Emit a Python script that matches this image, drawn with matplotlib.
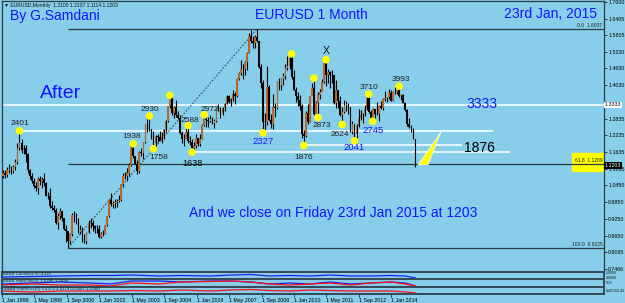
import matplotlib
matplotlib.use("Agg")
import matplotlib.pyplot as plt
from matplotlib.patches import Polygon, Rectangle
import numpy as np

# EURUSD monthly, Jan 1998 .. Jan 2015
first_open = 1.085
closes = [
    1.080, 1.090, 1.082, 1.100, 1.105, 1.098, 1.112, 1.130, 1.180, 1.195, 1.172, 1.178,
    1.158, 1.099, 1.078, 1.059, 1.043, 1.034, 1.069, 1.060, 1.069, 1.053, 1.008, 1.007,
    0.970, 0.965, 0.958, 0.912, 0.935, 0.952, 0.927, 0.888, 0.882, 0.848, 0.870, 0.939,
    0.940, 0.920, 0.880, 0.887, 0.846, 0.848, 0.877, 0.911, 0.911, 0.901, 0.889, 0.890,
    0.860, 0.870, 0.872, 0.902, 0.934, 0.992, 0.979, 0.981, 0.986, 0.989, 0.992, 1.049,
    1.077, 1.078, 1.091, 1.118, 1.180, 1.149, 1.123, 1.098, 1.165, 1.159, 1.199, 1.259,
    1.246, 1.245, 1.229, 1.196, 1.220, 1.218, 1.203, 1.218, 1.242, 1.275, 1.327, 1.356,
    1.304, 1.325, 1.296, 1.287, 1.231, 1.210, 1.212, 1.234, 1.202, 1.199, 1.179, 1.184,
    1.216, 1.192, 1.212, 1.262, 1.281, 1.279, 1.276, 1.281, 1.268, 1.276, 1.324, 1.320,
    1.302, 1.323, 1.336, 1.365, 1.344, 1.353, 1.370, 1.364, 1.426, 1.448, 1.462, 1.459,
    1.486, 1.518, 1.579, 1.560, 1.555, 1.575, 1.561, 1.468, 1.410, 1.273, 1.271, 1.397,
    1.280, 1.266, 1.325, 1.323, 1.415, 1.403, 1.425, 1.434, 1.464, 1.472, 1.500, 1.432,
    1.387, 1.363, 1.351, 1.329, 1.227, 1.223, 1.305, 1.270, 1.363, 1.392, 1.300, 1.338,
    1.369, 1.380, 1.416, 1.481, 1.440, 1.450, 1.439, 1.438, 1.339, 1.387, 1.345, 1.296,
    1.308, 1.332, 1.334, 1.324, 1.235, 1.266, 1.230, 1.257, 1.286, 1.296, 1.299, 1.319,
    1.358, 1.306, 1.282, 1.317, 1.299, 1.301, 1.330, 1.322, 1.352, 1.358, 1.359, 1.374,
    1.348, 1.380, 1.377, 1.387, 1.363, 1.369, 1.339, 1.313, 1.263, 1.253, 1.245, 1.210,
    1.1203,
]
highs = [
    1.095, 1.100, 1.100, 1.110, 1.120, 1.115, 1.118, 1.140, 1.195, 1.2401, 1.210, 1.190,
    1.1906, 1.162, 1.105, 1.090, 1.070, 1.058, 1.075, 1.080, 1.075, 1.090, 1.058, 1.022,
    1.034, 0.990, 0.975, 0.965, 0.945, 0.965, 0.955, 0.930, 0.905, 0.880, 0.875, 0.945,
    0.955, 0.945, 0.930, 0.904, 0.895, 0.870, 0.880, 0.920, 0.930, 0.921, 0.905, 0.905,
    0.905, 0.880, 0.885, 0.905, 0.937, 0.995, 1.019, 0.990, 0.998, 0.995, 1.012, 1.050,
    1.088, 1.094, 1.108, 1.125, 1.188, 1.1938, 1.150, 1.134, 1.168, 1.180, 1.200, 1.263,
    1.290, 1.2930, 1.248, 1.240, 1.226, 1.230, 1.238, 1.237, 1.248, 1.280, 1.330, 1.3667,
    1.361, 1.330, 1.349, 1.310, 1.295, 1.240, 1.229, 1.251, 1.2588, 1.220, 1.210, 1.200,
    1.230, 1.216, 1.230, 1.264, 1.2972, 1.290, 1.289, 1.297, 1.290, 1.282, 1.326, 1.337,
    1.325, 1.326, 1.339, 1.368, 1.368, 1.356, 1.385, 1.378, 1.428, 1.450, 1.493, 1.480,
    1.490, 1.523, 1.590, 1.600, 1.580, 1.583, 1.6037, 1.560, 1.480, 1.420, 1.305, 1.4719,
    1.403, 1.300, 1.370, 1.340, 1.417, 1.430, 1.428, 1.446, 1.478, 1.508, 1.508, 1.5144,
    1.458, 1.397, 1.378, 1.369, 1.334, 1.243, 1.310, 1.334, 1.364, 1.412, 1.4282, 1.345,
    1.380, 1.388, 1.425, 1.486, 1.4940, 1.462, 1.454, 1.458, 1.438, 1.420, 1.384, 1.363,
    1.325, 1.349, 1.348, 1.338, 1.324, 1.275, 1.238, 1.264, 1.317, 1.314, 1.303, 1.331,
    1.363, 1.3711, 1.315, 1.320, 1.310, 1.342, 1.332, 1.345, 1.356, 1.383, 1.361, 1.389,
    1.384, 1.382, 1.397, 1.391, 1.3993, 1.370, 1.370, 1.343, 1.318, 1.284, 1.260, 1.251,
    1.2107,
]
lows = [
    1.065, 1.070, 1.072, 1.075, 1.090, 1.085, 1.090, 1.100, 1.120, 1.170, 1.160, 1.158,
    1.128, 1.090, 1.069, 1.055, 1.037, 1.025, 1.013, 1.045, 1.035, 1.043, 1.006, 0.998,
    0.965, 0.956, 0.950, 0.906, 0.888, 0.925, 0.917, 0.884, 0.844, 0.8225, 0.835, 0.866,
    0.914, 0.906, 0.875, 0.873, 0.843, 0.840, 0.834, 0.874, 0.892, 0.883, 0.874, 0.876,
    0.857, 0.858, 0.863, 0.870, 0.899, 0.931, 0.970, 0.965, 0.966, 0.968, 0.985, 0.990,
    1.041, 1.068, 1.060, 1.078, 1.116, 1.143, 1.120, 1.084, 1.090, 1.150, 1.141, 1.196,
    1.236, 1.240, 1.211, 1.1758, 1.180, 1.200, 1.207, 1.198, 1.211, 1.235, 1.270, 1.322,
    1.297, 1.284, 1.288, 1.282, 1.228, 1.197, 1.187, 1.213, 1.198, 1.188, 1.1638, 1.169,
    1.180, 1.186, 1.187, 1.210, 1.257, 1.252, 1.255, 1.273, 1.263, 1.251, 1.270, 1.310,
    1.287, 1.297, 1.311, 1.335, 1.340, 1.329, 1.348, 1.335, 1.360, 1.423, 1.441, 1.425,
    1.441, 1.456, 1.517, 1.555, 1.536, 1.537, 1.556, 1.464, 1.393, 1.2329, 1.242, 1.262,
    1.276, 1.251, 1.2457, 1.288, 1.317, 1.385, 1.385, 1.403, 1.424, 1.458, 1.460, 1.426,
    1.385, 1.344, 1.327, 1.315, 1.213, 1.1876, 1.218, 1.263, 1.270, 1.367, 1.297, 1.304,
    1.2873, 1.352, 1.384, 1.409, 1.400, 1.409, 1.394, 1.409, 1.335, 1.322, 1.322, 1.292,
    1.2624, 1.305, 1.310, 1.300, 1.234, 1.229, 1.2041, 1.213, 1.255, 1.280, 1.269, 1.294,
    1.315, 1.302, 1.276, 1.2745, 1.275, 1.295, 1.276, 1.318, 1.313, 1.348, 1.343, 1.353,
    1.348, 1.346, 1.372, 1.370, 1.360, 1.350, 1.338, 1.311, 1.257, 1.251, 1.236, 1.2095,
    1.1114,
]

# marked pivots (month index from Jan 1998, price, label)
pivot_months = [9, 65, 73, 75, 92, 94, 100, 83, 129, 143, 149, 154, 156, 160, 168, 174, 181, 183, 196]
pivot_prices = [1.2401, 1.1938, 1.2930, 1.1758, 1.2588, 1.1638, 1.2972, 1.3667, 1.2327, 1.5144,
                1.1876, 1.4282, 1.2873, 1.4940, 1.2624, 1.2041, 1.3710, 1.2745, 1.3993]
pivot_labels = ["2401", "1938", "2930", "1758", "2588", "1638", "2972", "", "2327", "",
                "1876", "", "2873", "X", "2624", "2041", "3710", "2745", "3993"]
label_offsets = [(0, 7), (-2, 7), (0, 6), (5, -9), (2, 5), (0, -11), (6, 5), (0, 0), (0, -8.5), (0, 0),
                 (0, -12), (0, 0), (4, -8), (0, 9), (-2, -9.5), (0, -7), (0, 7), (0, -9), (2, 7)]
blue_labels = ["2327", "2041", "2745"]

# white support / resistance lines
level_prices = [1.3333, 1.2401, 1.1638, 1.1876]
level_start = [0, 9, 94, 149]
level_end = [297, 242, 250.8, 227]

# fibonacci retracement (Oct 2000 low -> Jul 2008 high)
fib_low_month, fib_high_month = 33, 126
fib_prices = [1.6037, 1.1209, 0.8225]
fib_labels = ["0.0  1.6037", "61.8  1.1209", "100.0  0.8225"]

# right axis ticks
ytick_vals = [1.7000, 1.6405, 1.5805, 1.5220, 1.4630, 1.4030, 1.2835, 1.2235, 1.1635,
              1.1035, 1.0450, 0.9850, 0.9250, 0.8650, 0.8065, 0.7466]
xtick_months = list(range(0, 193, 16))
xtick_labels = ["1 Jan 1998", "1 May 1999", "1 Sep 2000", "1 Jan 2002", "1 May 2003",
                "1 Sep 2004", "1 Jan 2006", "1 May 2007", "1 Sep 2008", "1 Jan 2010",
                "1 May 2011", "1 Sep 2012", "1 Jan 2014"]

# lower indicator windows
ind_months = [0, 15, 29, 44, 54, 64, 78, 88, 103, 113, 123, 132, 142, 152, 162, 172, 182, 192, 199, 204]
ind1_blue = [2, 2.5, 3, 3.5, 3.5, 4, 3, 3.5, 3, 4, 4.5, 3, 3.5, 3, 4, 3, 3, 3.5, 3, 1]
ind2_blue = [3, 4, 5, 4, 3, 6, 6, 5, 6, 6, 5, 3, 4, 3, 5, 3, 4, 5, 4, 1]
ind2_red = [2, 3, 2, 2, 1, 4, 3, 5, 5.5, 6, 5, 3, 2, 3, 4, 2, 4, 5, 3, 1]
ind3_red = [3, 2, 3, 3, 3, 3.5, 3, 4, 3, 4, 4.5, 3.5, 3, 4, 3.5, 3, 3, 3, 2, 1]

# yellow pointer wedge (month, price)
wedge = [(205.3, 1.1179), (210.2, 1.1179), (216.6, 1.2357)]

BG = "#87ceeb"
BLUE = "#1414ff"
W, H = 625, 303
XL = (0.39, 296.9)
YL = (0.7357, 1.7036)
plt.rcParams["font.family"] = ["Liberation Sans", "DejaVu Sans"]

fig = plt.figure(figsize=(6.25, 3.03), dpi=100, facecolor=BG)


def fx(x):
    return x / W


def fy(y):
    return 1 - y / H


ax = fig.add_axes([fx(2), fy(272), (604 - 2) / W, 271 / H])
ax.set_facecolor(BG)
ax.set_xlim(*XL)
ax.set_ylim(*YL)

o = np.array([first_open] + closes[:-1])
c = np.array(closes)
h = np.array(highs)
l = np.array(lows)
m = np.arange(len(c))
up = c >= o

ax.vlines(m, l, h, color="black", lw=0.8, zorder=3)
ax.bar(m[up], (c - o)[up], bottom=o[up], width=0.8, color="#b8652a", zorder=4)
ax.bar(m[~up], (o - c)[~up], bottom=c[~up], width=0.8, color="black", zorder=4)

# levels
for p, s, e in zip(level_prices, level_start, level_end):
    ax.hlines(p, s, e, color="white", lw=1.1, zorder=2)

# fibo
for p, t in zip(fib_prices, fib_labels):
    ax.hlines(p, fib_low_month, XL[1], color="#2a3a40", lw=0.9, zorder=2)
    ax.text(XL[1] - 0.8, p + 0.004, t, fontsize=3.6, ha="right", va="bottom",
            color="#202020", zorder=6)
ax.plot([fib_low_month, fib_high_month], [fib_prices[2], fib_prices[0]],
        ls=(0, (1.5, 1.5)), color="#3a4a55", lw=0.8, zorder=2)

# yellow box around the 61.8 label
ax.add_patch(Rectangle((fx(572) * 0 + 281.2, 1.0964), XL[1] - 281.2, 1.1607 - 1.0964,
                       color="yellow", zorder=1))

ax.add_patch(Polygon(wedge, closed=True, facecolor="yellow", edgecolor="white",
                     lw=0.5, zorder=5))

# pivots
ax.scatter(pivot_months, pivot_prices, s=30, color="yellow", edgecolors="none", zorder=5)
for mo, pr, lab, off in zip(pivot_months, pivot_prices, pivot_labels, label_offsets):
    if not lab:
        continue
    if lab in blue_labels:
        col, fs = BLUE, 6.8
    elif lab == "X":
        col, fs = "#101010", 7.5
    elif lab == "1638":
        col, fs = "black", 6.6
    else:
        col, fs = "#202020", 6
    ax.annotate(lab, (mo, pr), xytext=off, textcoords="offset pixels",
                ha="center", va="center", fontsize=fs, color=col, zorder=6)

ax.yaxis.tick_right()
ax.set_yticks(ytick_vals)
ax.set_yticklabels([f"{v:.4f}" for v in ytick_vals], fontsize=3.8)
ax.tick_params(axis="y", length=2, width=0.5, pad=1)
ax.set_xticks([])
for sp in ax.spines.values():
    sp.set_color("#303a40")
    sp.set_linewidth(0.9)

# lower windows
panels = [(272, 279, [(ind1_blue, "#1e1ee6")], "&&&& Coolness 87.4336"),
          (279, 287, [(ind2_blue, "#1e1ee6"), (ind2_red, "#ff1010")], "&&&& HullsOsc(5) 1.6396 3.3938"),
          (287, 294, [(ind3_red, "#ff1010")], "&&&& ProfitOsc(5) 9.4373 2.4379 0.0000 -1.0000")]
pax = []
for top, bot, series, name in panels:
    a = fig.add_axes([fx(2), fy(bot), (604 - 2) / W, (bot - top) / H])
    a.set_facecolor(BG)
    a.set_xlim(*XL)
    a.set_ylim(0, bot - top)
    for vals, col in series:
        a.plot(ind_months, vals, color=col, lw=0.9)
    a.text(1, bot - top - 0.4, name, fontsize=3.2, va="top", color="#202020")
    a.set_yticks([])
    a.set_xticks([])
    for sp in a.spines.values():
        sp.set_color("#34495a")
        sp.set_linewidth(1.4)
    pax.append(a)

pax[-1].set_xticks(xtick_months)
pax[-1].set_xticklabels(xtick_labels, fontsize=3.8, ha="left")
pax[-1].tick_params(axis="x", length=2, width=0.5, pad=1)

# right side small panel labels
fig.text(fx(606), fy(275.5), "2.0000\n0.0000", fontsize=2.6, va="center", color="#101010")
fig.text(fx(606), fy(283), "600", fontsize=3, va="center", color="#101010")
fig.text(fx(606), fy(291), "9.4373/2.43", fontsize=2.6, va="center", color="#101010")

# price labels on axis
fig.text(fx(605), fy(105), "1.3333", fontsize=3.8, va="center", color="black",
         bbox=dict(boxstyle="square,pad=0.15", fc="white", ec="none"))
fig.text(fx(605), fy(165.5), "1.1203", fontsize=3.8, va="center", color="white",
         bbox=dict(boxstyle="square,pad=0.15", fc="black", ec="none"))

# header and titles
fig.text(fx(4), fy(5), "\u25bc EURUSD,Monthly  1.2100 1.2107 1.1114 1.1203",
         fontsize=3.6, va="center", color="#101010")
fig.text(fx(10), fy(16), "By G.Samdani", fontsize=10, color=BLUE, va="center")
fig.text(fx(311), fy(15), "EURUSD 1 Month", fontsize=10, color=BLUE, va="center", ha="center")
fig.text(fx(550), fy(14), "23rd Jan, 2015", fontsize=10, color=BLUE, va="center", ha="center")
fig.text(fx(40), fy(93), "After", fontsize=14, color=BLUE, va="center")
fig.text(fx(482), fy(104), "3333", fontsize=10, color=BLUE, va="center", ha="center")
fig.text(fx(464), fy(148), "1876", fontsize=10, color="black", va="center")
fig.text(fx(333), fy(213), "And we close on Friday 23rd Jan 2015 at 1203",
         fontsize=10, color=BLUE, va="center", ha="center")

fig.savefig("out.png", dpi=100, facecolor=BG)
